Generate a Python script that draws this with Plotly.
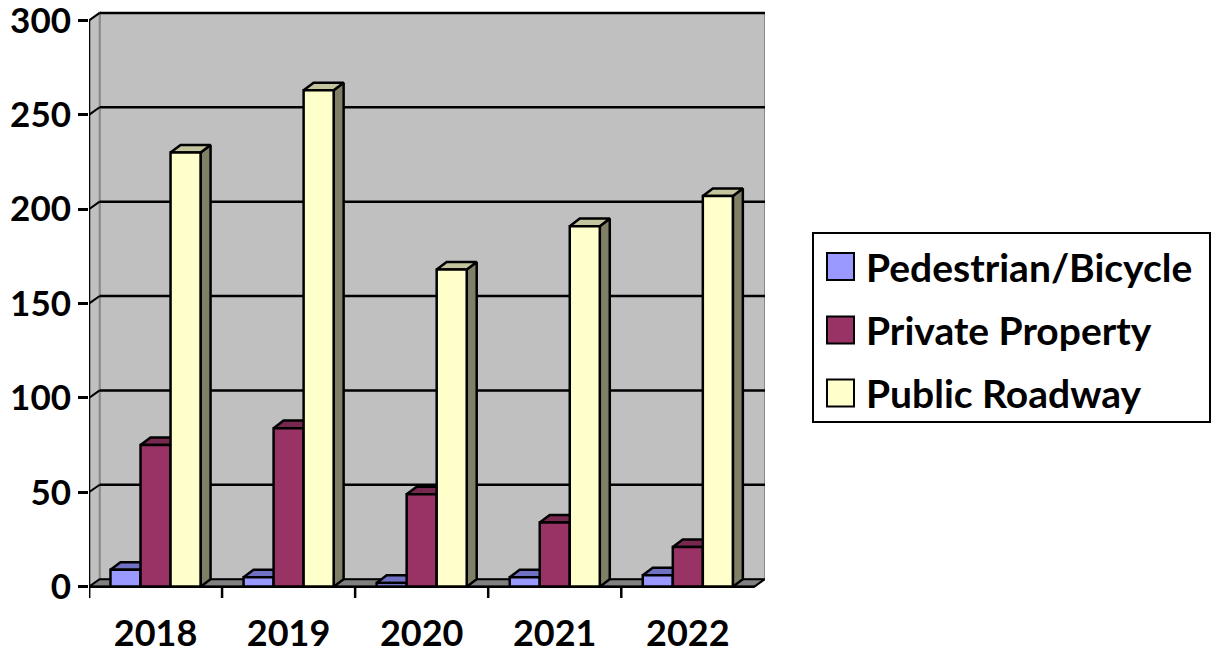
import plotly.graph_objects as go

# ---------------- data ----------------
years = ["2018", "2019", "2020", "2021", "2022"]
series_names = ["Pedestrian/Bicycle", "Private Property", "Public Roadway"]
pedestrian = [9, 5, 2, 5, 6]
private_property = [75, 84, 49, 34, 21]
public_roadway = [230, 263, 168, 191, 207]
y_tick_values = [0, 50, 100, 150, 200, 250, 300]

series_values = [pedestrian, private_property, public_roadway]

# ---------------- style ----------------
front_colors = ["#9999FF", "#993366", "#FFFFCC"]
top_colors = ["#7171C4", "#76284F", "#C4C49E"]
side_colors = ["#4D4D80", "#4D1A33", "#808066"]
FONT = "Lato"
LINE_W = 2.5

W, H = 1216, 655
ML, MR, MT, MB = 89, 451, 11, 57
Y_MIN, Y_MAX = -6, 305
WALL_DX, WALL_DY = 0.08, 4.0     # depth offset of back wall (data units)
BAR_DX, BAR_DY = 0.075, 4.0      # depth of bars
GROUP_W = 0.677                  # fraction of a category taken by the bars
n_cat = len(years)
X_MIN, X_MAX = -0.5, n_cat - 0.5 + WALL_DX
bar_w = GROUP_W / len(series_values)

fig = go.Figure()


def poly_trace(polys, fill, name):
    xs, ys = [], []
    for px, py in polys:
        xs += list(px) + [px[0], None]
        ys += list(py) + [py[0], None]
    return go.Scatter(x=xs, y=ys, mode="lines", fill="toself", fillcolor=fill,
                      line=dict(color="black", width=LINE_W), hoverinfo="skip",
                      showlegend=False, name=name, cliponaxis=False)


for s, vals in enumerate(series_values):
    tops, sides, fronts = [], [], []
    for c, v in enumerate(vals):
        x0 = c - GROUP_W / 2 + s * bar_w
        x1 = x0 + bar_w
        tops.append(([x0, x1, x1 + BAR_DX, x0 + BAR_DX], [v, v, v + BAR_DY, v + BAR_DY]))
        sides.append(([x1, x1 + BAR_DX, x1 + BAR_DX, x1], [0, BAR_DY, v + BAR_DY, v]))
        fronts.append(([x0, x1, x1, x0], [0, 0, v, v]))
    fig.add_trace(poly_trace(sides, side_colors[s], series_names[s] + " side"))
    fig.add_trace(poly_trace(tops, top_colors[s], series_names[s] + " top"))
    fig.add_trace(poly_trace(fronts, front_colors[s], series_names[s]))

shapes = []
# back wall
shapes.append(dict(type="rect", xref="x", yref="y", layer="below",
                   x0=X_MIN + WALL_DX, x1=X_MAX, y0=WALL_DY, y1=y_tick_values[-1] + WALL_DY,
                   fillcolor="#C0C0C0", line=dict(color="#8A8A8A", width=2)))
# left side wall
shapes.append(dict(type="path", xref="x", yref="y", layer="below",
                   path=f"M {X_MIN},0 L {X_MIN + WALL_DX},{WALL_DY} L {X_MIN + WALL_DX},{y_tick_values[-1] + WALL_DY} L {X_MIN},{y_tick_values[-1]} Z",
                   fillcolor="#C0C0C0", line=dict(color="#8A8A8A", width=2)))
# floor
shapes.append(dict(type="path", xref="x", yref="y", layer="below",
                   path=f"M {X_MIN},0 L {n_cat - 0.5},0 L {X_MAX},{WALL_DY} L {X_MIN + WALL_DX},{WALL_DY} Z",
                   fillcolor="#808080", line=dict(color="black", width=2)))
# gridlines on back wall + diagonals on side wall
for v in y_tick_values[1:]:
    shapes.append(dict(type="line", xref="x", yref="y", layer="below",
                       x0=X_MIN + WALL_DX, x1=X_MAX, y0=v + WALL_DY, y1=v + WALL_DY,
                       line=dict(color="black", width=2.5)))
    shapes.append(dict(type="line", xref="x", yref="y", layer="below",
                       x0=X_MIN, x1=X_MIN + WALL_DX, y0=v, y1=v + WALL_DY,
                       line=dict(color="black", width=2)))
# front floor edge
shapes.append(dict(type="line", xref="x", yref="y", x0=X_MIN, x1=n_cat - 0.5, y0=0, y1=0,
                   line=dict(color="black", width=LINE_W)))
# front value axis line
shapes.append(dict(type="line", xref="x", yref="y", x0=X_MIN, x1=X_MIN, y0=Y_MIN,
                   y1=y_tick_values[-1], line=dict(color="black", width=LINE_W)))
# category boundary ticks
for c in range(n_cat):
    shapes.append(dict(type="line", xref="x", yref="y", x0=c - 0.5, x1=c - 0.5, y0=0, y1=Y_MIN,
                       line=dict(color="black", width=LINE_W)))


# ---------------- custom legend ----------------
pw = W - ML - MR
ph = H - MT - MB


def pxx(px):
    return (px - ML) / pw


def pxy(py):
    return (H - MB - py) / ph


shapes.append(dict(type="rect", xref="paper", yref="paper",
                   x0=pxx(813), x1=pxx(1210), y0=pxy(422), y1=pxy(233),
                   fillcolor="white", line=dict(color="black", width=2)))
annotations = []
row_centers = [266.5, 330, 393]
for i, name in enumerate(series_names):
    cy = row_centers[i]
    shapes.append(dict(type="rect", xref="paper", yref="paper",
                       x0=pxx(827), x1=pxx(854), y0=pxy(cy + 13.5), y1=pxy(cy - 13.5),
                       fillcolor=front_colors[i], line=dict(color="black", width=2)))
    annotations.append(dict(xref="paper", yref="paper", x=pxx(864), y=pxy(cy),
                            xanchor="left", yanchor="middle", showarrow=False, text=name,
                            font=dict(family=FONT, size=39, color="black", weight="bold")))

fig.update_layout(
    width=W, height=H,
    margin=dict(l=ML, r=MR, t=MT, b=MB, pad=0),
    paper_bgcolor="white", plot_bgcolor="white",
    showlegend=False,
    shapes=shapes, annotations=annotations,
    xaxis=dict(range=[X_MIN, X_MAX], tickvals=list(range(n_cat)), ticktext=years,
               ticks="outside", ticklen=4, tickcolor="rgba(0,0,0,0)", automargin=False,
               ticklabeloverflow="allow",
               showgrid=False, zeroline=False, showline=False, fixedrange=True,
               tickfont=dict(family=FONT, size=36, color="black", weight="bold")),
    yaxis=dict(range=[Y_MIN, Y_MAX], tickvals=y_tick_values, automargin=False,
               ticklabeloverflow="allow",
               ticks="outside", ticklen=10, tickwidth=2.5, tickcolor="black",
               showgrid=False, zeroline=False, showline=False, fixedrange=True,
               tickfont=dict(family=FONT, size=35, color="black", weight="bold")),
)

fig.write_html("out.html", config={"displayModeBar": False},
               post_script="document.body.style.margin='0';document.body.style.overflow='hidden';")
